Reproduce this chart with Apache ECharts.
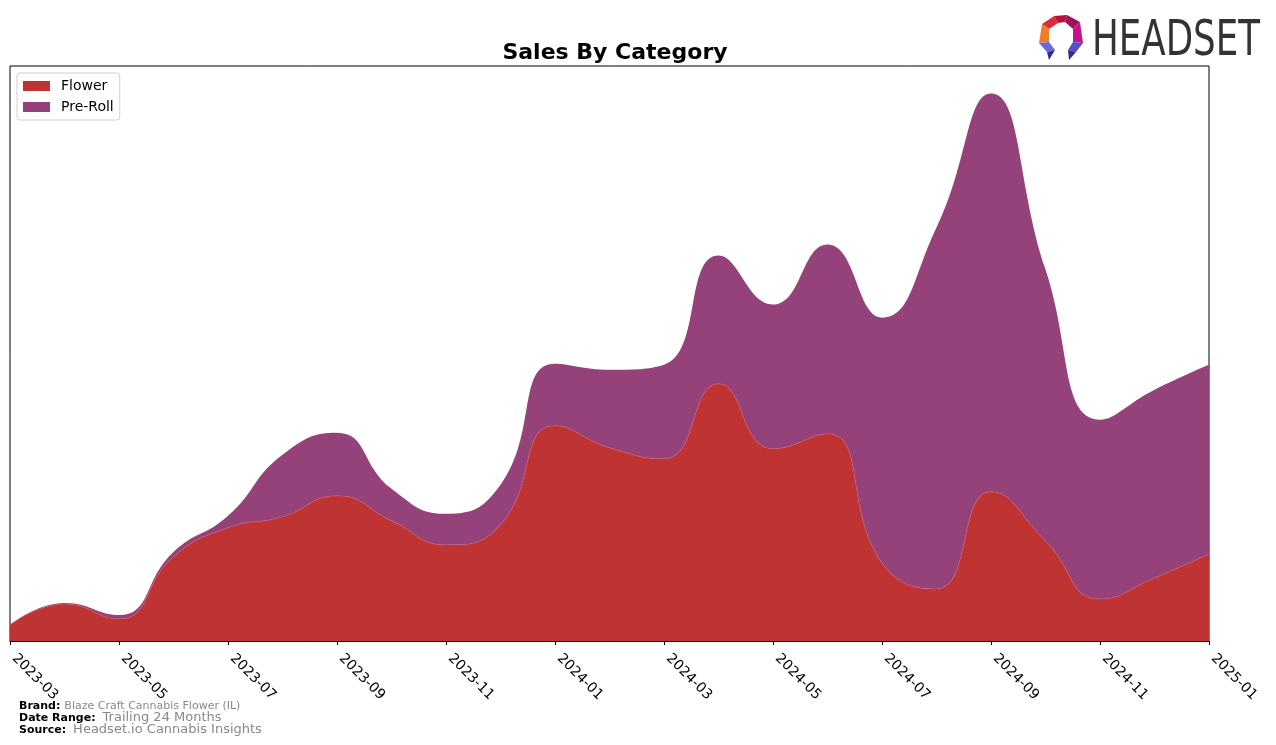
<!DOCTYPE html>
<html><head><meta charset="utf-8">
<script src="https://cdn.jsdelivr.net/npm/echarts@6/dist/echarts.min.js"></script>
<style>html,body{margin:0;padding:0;background:#fff}#c{width:1276px;height:745px}</style>
</head><body><div id="c"></div>
<script>
const months = ['2023-03','2023-04','2023-05','2023-06','2023-07','2023-08','2023-09','2023-10','2023-11','2023-12',
  '2024-01','2024-02','2024-03','2024-04','2024-05','2024-06','2024-07','2024-08','2024-09','2024-10','2024-11','2024-12','2025-01'];
const flower  = [16, 37, 22, 84, 113, 124, 145, 120, 96, 116, 215, 193, 182, 257, 192, 207, 78, 52, 149, 100, 42, 63, 87];
const preRoll = [0, 1, 4, 5, 12, 62, 63, 32, 31, 40, 62, 78, 94, 128, 144, 189, 245, 361, 398, 271, 179, 188, 189];
const seriesNames = ['Flower', 'Pre-Roll'];
const colors = ['#c03333', '#96427a'];
const titleText = 'Sales By Category';
const footer = [
  ['Brand:', 'Blaze Craft Cannabis Flower (IL)', 11],
  ['Date Range:', 'Trailing 24 Months', 13],
  ['Source:', 'Headset.io Cannabis Insights', 13]
];

const totals = flower.map((v, i) => v + preRoll[i]);
const yMax = Math.max(...totals) * 1.05;

const chart = echarts.init(document.getElementById('c'), null, {renderer: 'canvas'});
const FONT = 'DejaVu Sans';

const cv = document.createElement('canvas').getContext('2d');
cv.font = '50px "Liberation Sans Narrow", "DejaVu Sans Condensed", sans-serif';
const logoW = cv.measureText('HEADSET').width;
const logoScale = 168 / logoW;

const footerY = [708, 720, 732];
const footerGraphics = [];
footer.forEach((f, i) => {
  const y = footerY[i];
  cv.font = 'bold 11px "DejaVu Sans"';
  const w = cv.measureText(f[0]).width;
  footerGraphics.push({type: 'text', left: 19, top: y - 7, style: {text: f[0], font: 'bold 11px "DejaVu Sans"', fill: '#000'}});
  footerGraphics.push({type: 'text', left: 19 + w + (f[2] > 11 ? 7 : 4), top: y - (f[2] > 11 ? 9 : 7), style: {text: f[1], font: f[2] + 'px "DejaVu Sans"', fill: '#888'}});
});

const option = {
  animation: false,
  backgroundColor: '#fff',
  title: {text: titleText, left: 610, top: 37, textAlign: 'center',
    textStyle: {fontFamily: FONT, fontSize: 22, fontWeight: 'bold', color: '#000'}},
  legend: {
    data: seriesNames, orient: 'vertical', left: 17, top: 73,
    icon: 'rect', itemWidth: 27, itemHeight: 10, itemGap: 7,
    padding: [6, 6, 6, 6], borderColor: '#d0d0d0', borderWidth: 1, borderRadius: 3,
    backgroundColor: 'rgba(255,255,255,0.8)',
    textStyle: {fontFamily: FONT, fontSize: 14, color: '#000', padding: [0, 0, 0, 6]}
  },
  grid: {left: 10, right: 67, top: 66, bottom: 104, show: true, borderColor: '#000', borderWidth: 1, backgroundColor: 'transparent', containLabel: false},
  xAxis: {
    type: 'category', data: months, boundaryGap: false,
    axisLine: {show: true, lineStyle: {color: '#000', width: 1}},
    axisTick: {show: true, interval: 1, length: 4, lineStyle: {color: '#000'}},
    axisLabel: {interval: 1, rotate: -45, fontFamily: FONT, fontSize: 14, color: '#000', margin: 11, padding: [0, 0, 0, 6]},
    splitLine: {show: false}
  },
  yAxis: {type: 'value', min: 0, max: yMax, show: false, splitLine: {show: false}},
  series: [
    {name: seriesNames[0], type: 'line', stack: 'total', data: flower, smooth: 0.5, symbol: 'none',
      lineStyle: {width: 0.6, color: '#c85a6a'}, itemStyle: {color: colors[0]}, areaStyle: {color: colors[0], opacity: 1}},
    {name: seriesNames[1], type: 'line', stack: 'total', data: preRoll, smooth: 0.5, symbol: 'none',
      lineStyle: {width: 0}, itemStyle: {color: colors[1]}, areaStyle: {color: colors[1], opacity: 1}}
  ],
  graphic: [
    {type: 'polygon', shape: {points: [[1042,24],[1054,16],[1058,23],[1049,29]]}, style: {fill: '#e02a3a'}},
    {type: 'polygon', shape: {points: [[1054,16],[1067,15],[1065,22],[1058,23]]}, style: {fill: '#b8123c'}},
    {type: 'polygon', shape: {points: [[1067,15],[1080,22],[1073,29],[1065,22]]}, style: {fill: '#a0125a'}},
    {type: 'polygon', shape: {points: [[1042,24],[1049,29],[1049,42],[1039,43]]}, style: {fill: '#f07c2a'}},
    {type: 'polygon', shape: {points: [[1080,22],[1083,43],[1073,42],[1073,29]]}, style: {fill: '#c0168a'}},
    {type: 'polygon', shape: {points: [[1039,43],[1049,42],[1055,50],[1047,52]]}, style: {fill: '#6a6ad8'}},
    {type: 'polygon', shape: {points: [[1073,42],[1083,43],[1076,52],[1068,50]]}, style: {fill: '#5050c8'}},
    {type: 'polygon', shape: {points: [[1047,52],[1055,50],[1049,60]]}, style: {fill: '#2a2e8a'}},
    {type: 'polygon', shape: {points: [[1068,50],[1076,52],[1069,60]]}, style: {fill: '#2a2e8a'}},
    {type: 'text', left: 1092, top: 17, scaleX: logoScale, originX: 1092,
      style: {text: 'HEADSET', font: '50px "Liberation Sans Narrow", "DejaVu Sans Condensed", sans-serif', fill: '#333'}},
    ...footerGraphics
  ]
};
chart.setOption(option);
</script>
</body></html>
